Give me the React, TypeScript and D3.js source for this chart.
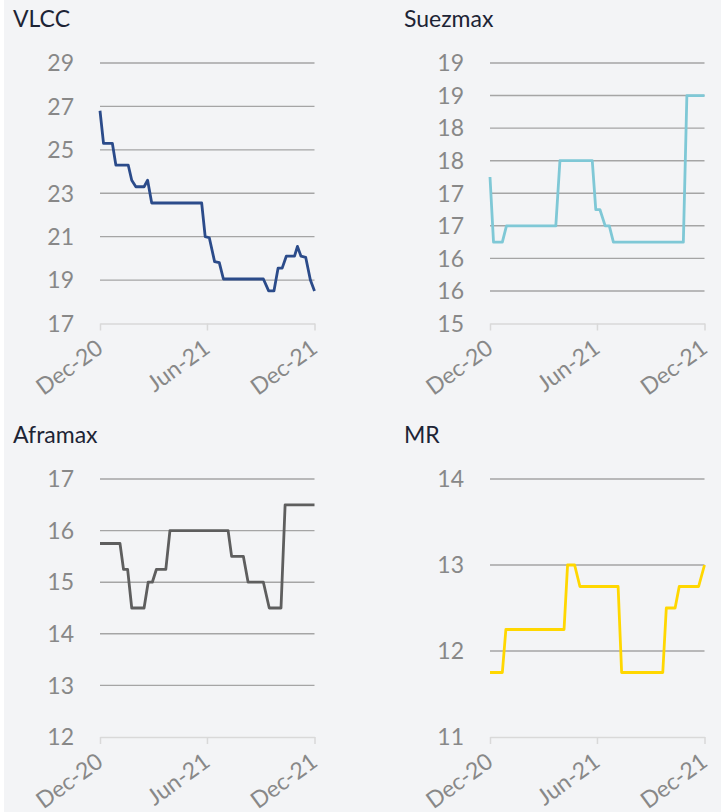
import React, { useEffect, useRef } from "react";
import * as d3 from "d3";

// weekly rates (date, value)
const vlcc: [string, number][] = [
    ["2020-12-01", 26.8], ["2020-12-07", 25.3], ["2020-12-22", 25.3], ["2020-12-28", 24.3],
    ["2021-01-18", 24.3], ["2021-01-24", 23.6], ["2021-01-31", 23.3], ["2021-02-14", 23.3],
    ["2021-02-20", 23.6], ["2021-02-27", 22.55], ["2021-05-23", 22.55], ["2021-05-29", 21.0],
    ["2021-06-05", 20.95], ["2021-06-14", 19.85], ["2021-06-22", 19.8], ["2021-06-29", 19.05],
    ["2021-09-05", 19.05], ["2021-09-14", 18.5], ["2021-09-23", 18.5], ["2021-09-30", 19.55],
    ["2021-10-07", 19.55], ["2021-10-14", 20.1], ["2021-10-28", 20.1], ["2021-11-02", 20.55],
    ["2021-11-08", 20.1], ["2021-11-16", 20.05], ["2021-11-24", 19.0], ["2021-12-01", 18.5],
];

const suezmax: [string, number][] = [
    ["2020-12-01", 17.25], ["2020-12-07", 16.25], ["2020-12-22", 16.25], ["2020-12-29", 16.5],
    ["2021-03-23", 16.5], ["2021-03-30", 17.5], ["2021-05-24", 17.5], ["2021-05-30", 16.75],
    ["2021-06-06", 16.75], ["2021-06-15", 16.5], ["2021-06-22", 16.5], ["2021-06-29", 16.25],
    ["2021-10-26", 16.25], ["2021-11-01", 18.5], ["2021-12-01", 18.5],
];

const aframax: [string, number][] = [
    ["2020-12-01", 15.75], ["2021-01-04", 15.75], ["2021-01-10", 15.25], ["2021-01-17", 15.25],
    ["2021-01-24", 14.5], ["2021-02-14", 14.5], ["2021-02-21", 15.0], ["2021-02-28", 15.0],
    ["2021-03-07", 15.25], ["2021-03-23", 15.25], ["2021-03-30", 16.0], ["2021-07-07", 16.0],
    ["2021-07-13", 15.5], ["2021-08-02", 15.5], ["2021-08-10", 15.0], ["2021-09-05", 15.0],
    ["2021-09-15", 14.5], ["2021-10-05", 14.5], ["2021-10-12", 16.5], ["2021-12-01", 16.5],
];

const mr: [string, number][] = [
    ["2020-12-01", 11.75], ["2020-12-22", 11.75], ["2020-12-28", 12.25], ["2021-04-06", 12.25],
    ["2021-04-12", 13.0], ["2021-04-24", 13.0], ["2021-05-03", 12.75], ["2021-07-07", 12.75],
    ["2021-07-13", 11.75], ["2021-09-21", 11.75], ["2021-09-27", 12.5], ["2021-10-12", 12.5],
    ["2021-10-19", 12.75], ["2021-11-21", 12.75], ["2021-12-01", 13.0],
];

const vlccTicks = [17, 19, 21, 23, 25, 27, 29];
const suezmaxTicks = [15, 15.5, 16, 16.5, 17, 17.5, 18, 18.5, 19];
const aframaxTicks = [12, 13, 14, 15, 16, 17];
const mrTicks = [11, 12, 13, 14];

const xTickDates = ["2020-12-01", "2021-06-01", "2021-12-01"];
const xTickLabels = ["Dec-20", "Jun-21", "Dec-21"];

const parse = d3.timeParse("%Y-%m-%d");

const panels = [
    { title: "VLCC", data: vlcc, ticks: vlccTicks, color: "#2b4b8a", x: 0, y: 0 },
    { title: "Suezmax", data: suezmax, ticks: suezmaxTicks, color: "#7fc8d6", x: 390, y: 0 },
    { title: "Aframax", data: aframax, ticks: aframaxTicks, color: "#5e5e5e", x: 0, y: 416 },
    { title: "MR", data: mr, ticks: mrTicks, color: "#ffd700", x: 390, y: 416 },
];

const Panel = props => {
    const ref = useRef(null);

    useEffect(() => {
        const g = d3.select(ref.current);
        g.selectAll("*").remove();

        const plotLeft = 100;
        const plotRight = plotLeft + 214.5;
        const plotTop = 63;
        const plotBottom = props.bottom;

        const xScale = d3.scaleTime()
            .domain([parse(xTickDates[0]), parse(xTickDates[2])])
            .range([plotLeft, plotRight]);

        const yScale = d3.scaleLinear()
            .domain([d3.min(props.ticks), d3.max(props.ticks)])
            .range([plotBottom, plotTop]);

        // title
        g.append("text")
            .attr("x", props.titleX)
            .attr("y", 27)
            .attr("fill", "#1d2435")
            .attr("font-size", 23)
            .text(props.title);

        // gridlines, all but the baseline
        g.selectAll(".grid")
            .data(props.ticks.slice(1))
            .enter().append("line")
                .attr("x1", plotLeft)
                .attr("x2", plotRight)
                .attr("y1", d => yScale(d))
                .attr("y2", d => yScale(d))
                .attr("stroke", "#a5a5a5")
                .attr("stroke-width", 1.4);

        // y labels (rounded like the source)
        g.selectAll(".ylab")
            .data(props.ticks)
            .enter().append("text")
                .attr("x", plotLeft - 26)
                .attr("y", d => yScale(d))
                .attr("dy", "0.36em")
                .attr("text-anchor", "end")
                .attr("fill", "#888888")
                .attr("font-size", 23)
                .text(d => Math.round(d));

        // x axis
        const xAxisG = g.append("g")
            .attr("transform", `translate(0, ${plotBottom})`)
            .call(d3.axisBottom(xScale)
                .tickValues(xTickDates.map(parse))
                .tickSize(7)
                .tickSizeOuter(0)
                .tickFormat((d, i) => xTickLabels[i]));

        xAxisG.select(".domain")
            .attr("stroke", "#d9d9d9")
            .attr("stroke-width", 1.5);

        xAxisG.selectAll(".tick line")
            .attr("stroke", "#d9d9d9")
            .attr("stroke-width", 1.5);

        xAxisG.selectAll(".tick text")
            .attr("font-family", "Lato")
            .attr("font-size", 23)
            .attr("fill", "#888888")
            .attr("text-anchor", "end")
            .attr("dy", null)
            .attr("y", null)
            .attr("transform", "translate(4, 28) rotate(-36)");

        const line = d3.line()
            .x(d => xScale(parse(d[0])))
            .y(d => yScale(d[1]));

        g.append("path")
            .datum(props.data)
            .attr("d", line)
            .attr("fill", "none")
            .attr("stroke", props.color)
            .attr("stroke-width", 2.8)
            .attr("stroke-linejoin", "round");
    }, [props.data]);

    return <g ref={ref} transform={`translate(${props.x}, ${props.y})`} />;
};

const App = () => {
    return (
        <div style={{ position: "absolute", left: 0, top: 0 }}>
            <svg width={721} height={812} style={{ display: "block", fontFamily: "Lato" }}>
                <rect x={0} y={0} width={721} height={812} fill="#ffffff" />
                <rect x={4} y={0} width={717} height={812} fill="#f3f4f6" />
                {panels.map(p => (
                    <Panel
                        key={p.title}
                        title={p.title}
                        data={p.data}
                        ticks={p.ticks}
                        color={p.color}
                        x={p.x}
                        y={p.y}
                        titleX={p.x === 0 ? 13 : 14}
                        bottom={p.y === 0 ? 323.5 : 321}
                    />
                ))}
            </svg>
        </div>
    );
};

export default App;
